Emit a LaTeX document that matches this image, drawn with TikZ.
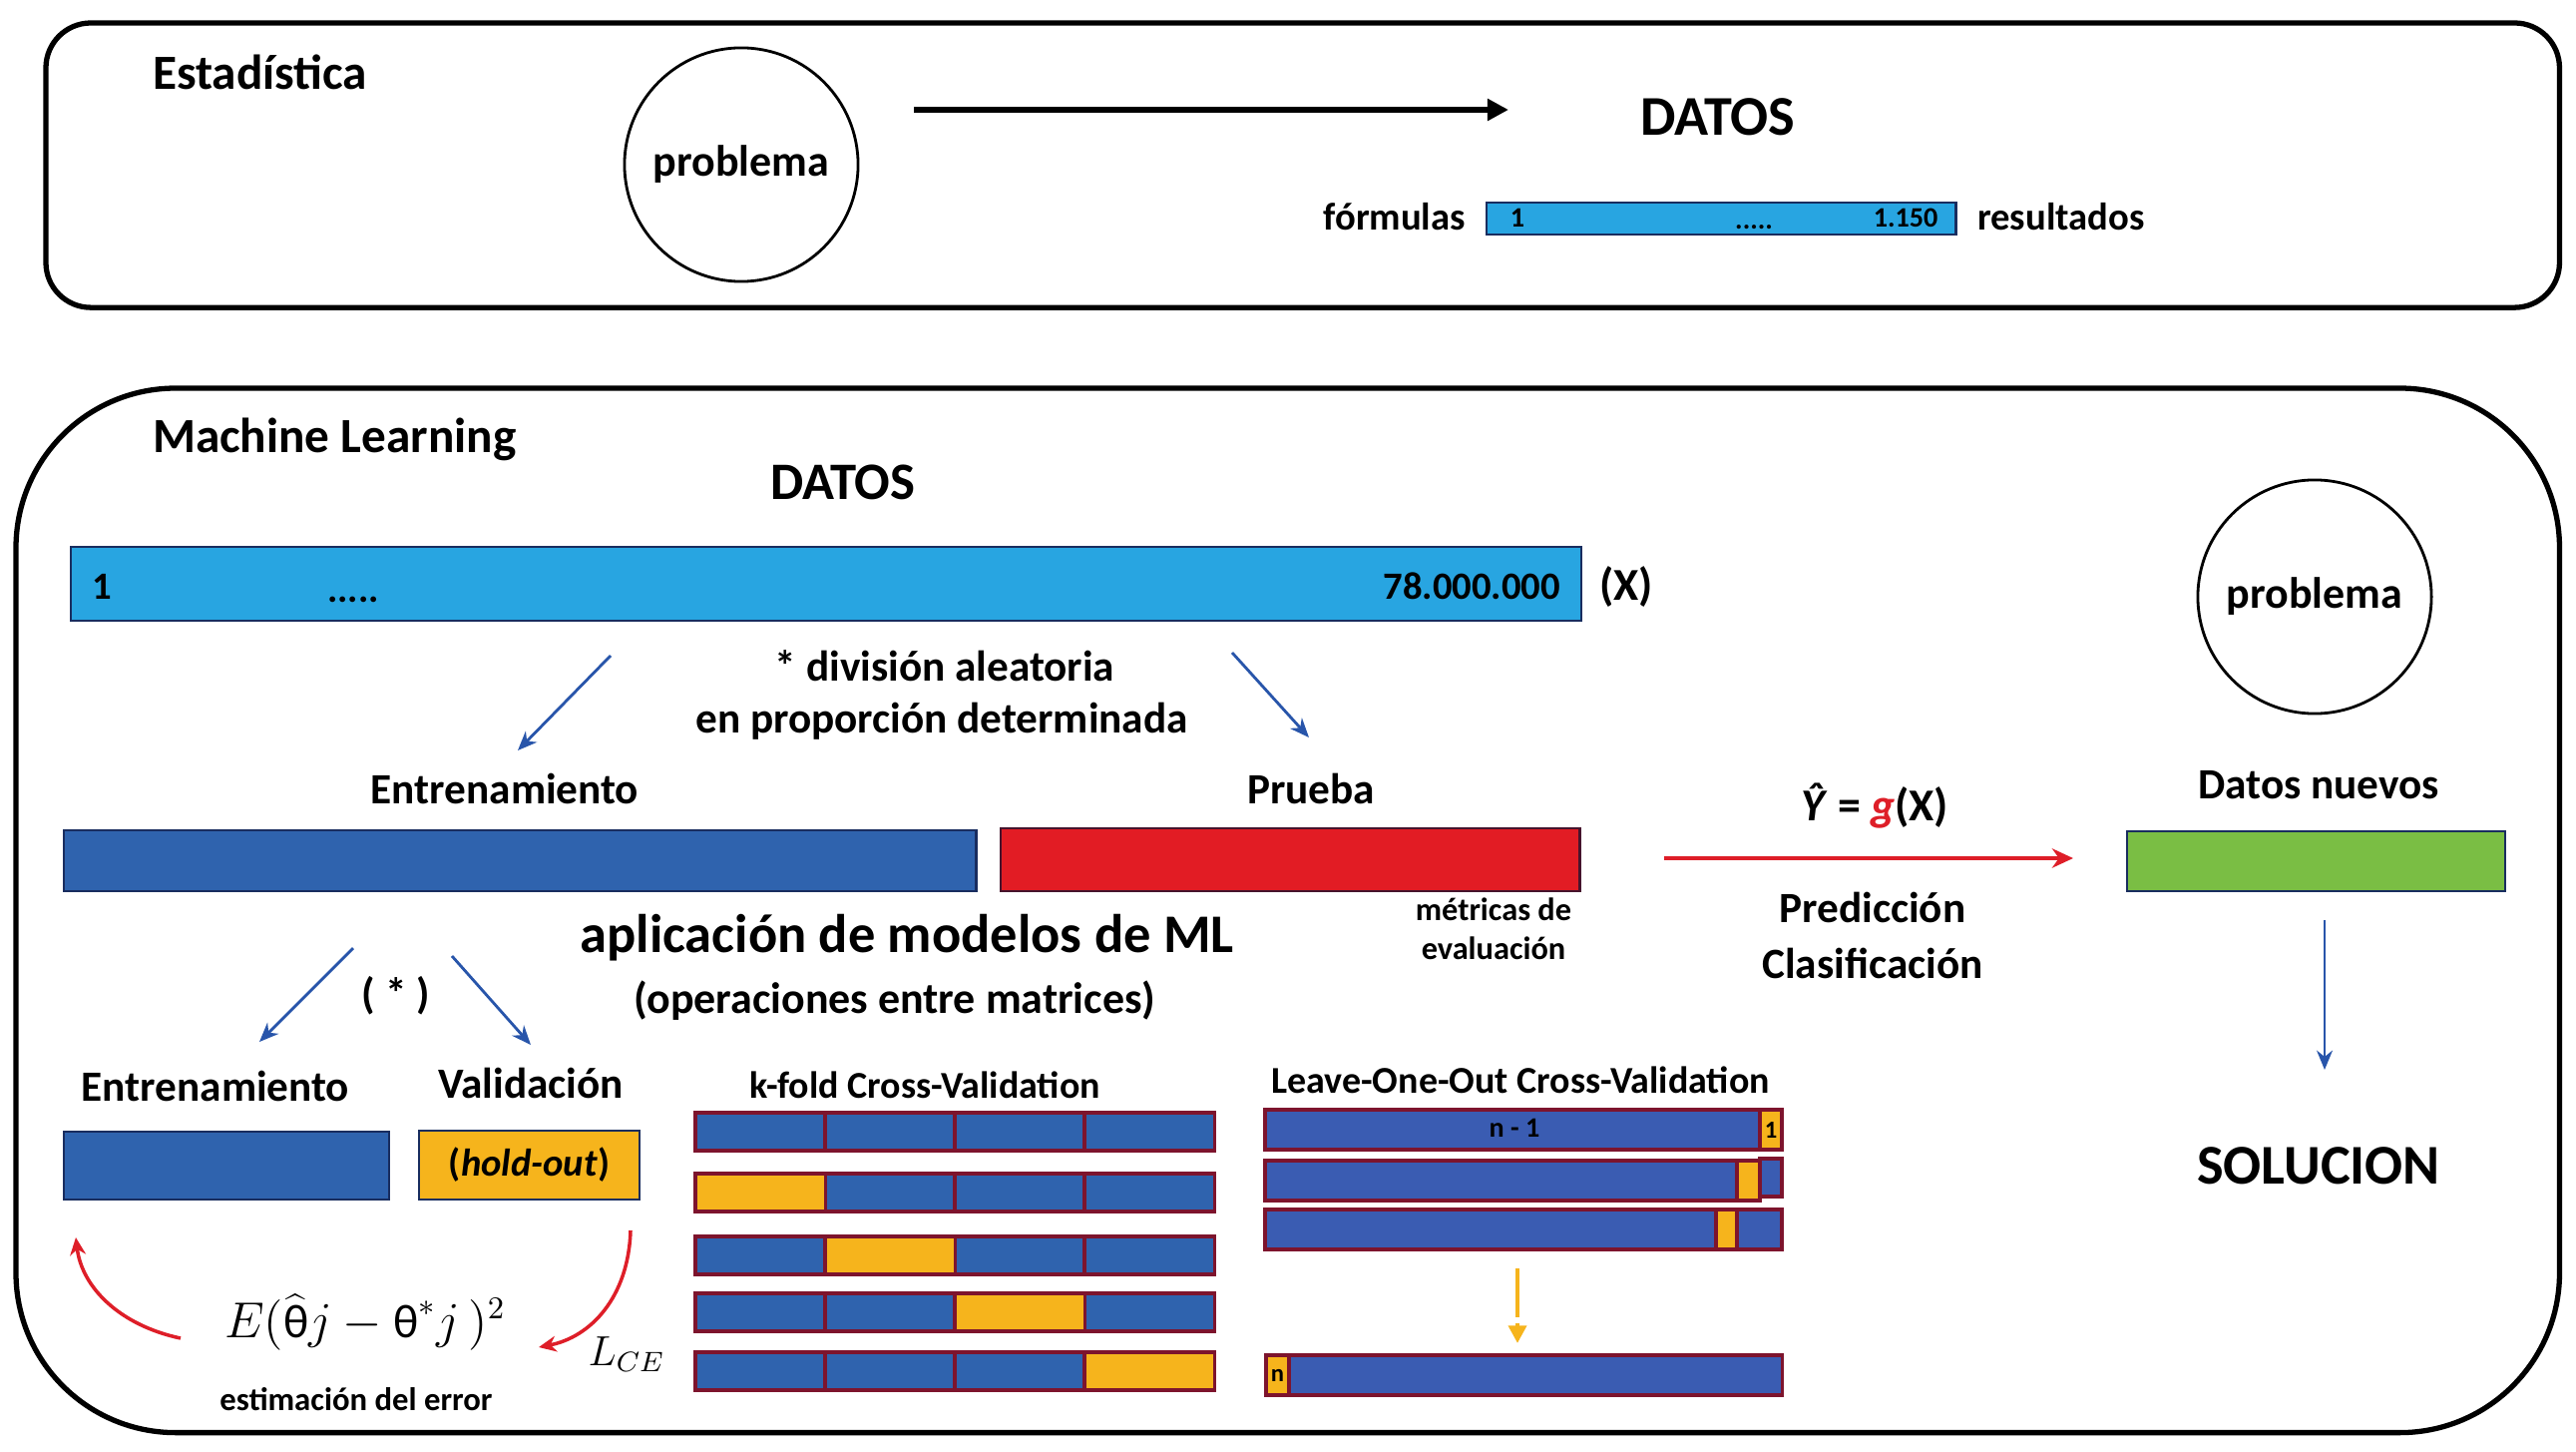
\documentclass[tikz,border=0pt]{standalone}
\usepackage{fontspec}
\setmainfont{Carlito}
\usetikzlibrary{arrows.meta}
\definecolor{lblue}{RGB}{40,165,225}
\definecolor{navy}{RGB}{25,45,95}
\definecolor{mblue}{RGB}{47,99,174}
\definecolor{lblue2}{RGB}{58,92,178}
\definecolor{rbar}{RGB}{226,28,36}
\definecolor{rbord}{RGB}{70,20,45}
\definecolor{orng}{RGB}{246,180,28}
\definecolor{gbar}{RGB}{122,190,68}
\definecolor{arrblue}{RGB}{40,85,170}
\definecolor{arrred}{RGB}{222,30,40}
\definecolor{cellb}{RGB}{125,20,45}
\newcommand\myfs[1]{\fontsize{#1}{#1}\selectfont}
\begin{document}
\begin{tikzpicture}[x=0.01cm,y=-0.01cm,
 every node/.style={inner sep=0pt, outer sep=0pt},
 lbl/.style={font=\bfseries\myfs{12.3}},
 ttl/.style={font=\bfseries\myfs{14}},
 small/.style={font=\bfseries\myfs{9.2}},
 tiny/.style={font=\bfseries\myfs{8}},
 bar/.style={draw, anchor=north west, line width=0.7pt},
 frame/.style={draw, line width=1.5pt, anchor=north west},
 prob/.style={circle, draw, line width=0.8pt, minimum size=2.34cm, font=\bfseries\myfs{12.5}},
 barrow/.style={draw=arrblue, line width=0.8pt, -{Stealth[length=5.5pt,width=4.5pt]}},
 rarrow/.style={draw=arrred, line width=1.0pt, -{Stealth[length=5pt,width=4.5pt]}},
 kcell/.style={draw=cellb, line width=0.9pt, fill=mblue, minimum height=0.38cm, anchor=north west},
 lcell/.style={draw=cellb, line width=0.9pt, fill=lblue2, minimum height=0.40cm, anchor=north west},
]
\useasboundingbox (0,0) rectangle (2582,1455);
\fill[white] (0,0) rectangle (2582,1455);

% ---------- Estadistica box ----------
\node[frame, rounded corners=0.45cm, minimum width=25.18cm, minimum height=2.85cm] (statbox) at (46,23) {};
\node[ttl, anchor=west] (est) at (153,72) {Estadística};
\node[prob] (prob1) at (743,165) {problema};
\coordinate (ar1s) at (916,110);
\coordinate (ar1e) at (1512,110);
\draw[line width=1.6pt, -{Triangle[length=6pt,width=6pt]}] (ar1s) -- (ar1e);
\node[font=\bfseries\myfs{16}] (datos1) at (1722,117) {DATOS};
\node[bar, fill=lblue, draw=navy, minimum width=4.7cm, minimum height=0.32cm] (bar1) at (1490,203) {};
\node[tiny, anchor=base] (b1a) at (1521,228) {1};
\node[tiny, anchor=base] (b1b) at (1758,230) {.....};
\node[tiny, anchor=base] (b1c) at (1910,228) {1.150};
\node[font=\bfseries\myfs{11}, anchor=east] (form) at (1469,217) {fórmulas};
\node[font=\bfseries\myfs{11}, anchor=west] (res) at (1982,217) {resultados};

% ---------- Machine Learning box ----------
\node[frame, rounded corners=1.6cm, minimum width=25.48cm, minimum height=10.46cm] (mlbox) at (16,389) {};
\node[ttl, anchor=west] (mltitle) at (153,440) {Machine Learning};
\node[font=\bfseries\myfs{15}] (datos2) at (845,483) {DATOS};
\node[bar, fill=lblue, draw=navy, minimum width=15.13cm, minimum height=0.74cm] (bar2) at (71,548) {};
\node[font=\bfseries\myfs{11}, anchor=base] (b2a) at (102,600) {1};
\node[font=\bfseries\myfs{11}, anchor=base] (b2b) at (354,603) {.....};
\node[font=\bfseries\myfs{11}, anchor=base east] (b2c) at (1564,600) {78.000.000};
\node[font=\bfseries\myfs{13}] (xlab) at (1630,588) {(X)};

\coordinate (d1s) at (612,657); \coordinate (d1e) at (519,752);
\coordinate (d2s) at (1235,654); \coordinate (d2e) at (1312,739);
\draw[barrow] (d1s) -- (d1e);
\draw[barrow] (d2s) -- (d2e);
\node[lbl] (div1) at (947,667) {* división aleatoria};
\node[lbl] (div2) at (944,723) {en proporción determinada};

\node[lbl] (train1) at (506,790) {Entrenamiento};
\node[lbl] (test1) at (1314,790) {Prueba};
\node[bar, fill=mblue, draw=navy, minimum width=9.14cm, minimum height=0.61cm] (trainbar) at (64,832) {};
\node[bar, fill=rbar, draw=rbord, minimum width=5.80cm, minimum height=0.63cm] (testbar) at (1003,830) {};
\node[small] (met1) at (1497,911) {métricas de};
\node[small] (met2) at (1497,950) {evaluación};
\node[font=\bfseries\myfs{15.5}] (apl) at (909,940) {aplicación de modelos de ML};
\node[font=\bfseries\myfs{12.5}] (oper) at (897,1003) {(operaciones entre matrices)};

% prediction
\coordinate (pr1) at (1668,860); \coordinate (pr2) at (2078,860);
\draw[draw=arrred, line width=1.4pt, -{Stealth[length=6pt,width=5.5pt]}] (pr1) -- (pr2);
\node[font=\bfseries\myfs{13}] (yhat) at (1879,808) {\textit{\^Y} = {\color{arrred}\textit{g}}(X)};
\node[lbl] (pred) at (1877,909) {Predicción};
\node[lbl] (clas) at (1877,965) {Clasificación};

% right side
\node[prob] (prob2) at (2320,598) {problema};
\node[lbl] (nuevos) at (2324,787) {Datos nuevos};
\node[bar, fill=gbar, draw=navy, minimum width=3.79cm, minimum height=0.60cm] (greenbar) at (2132,833) {};
\coordinate (s1) at (2330,922); \coordinate (s2) at (2330,1072);
\draw[barrow] (s1) -- (s2);
\node[font=\bfseries\myfs{16}] (sol) at (2324,1168) {SOLUCION};

% hold-out
\coordinate (h1s) at (354,950); \coordinate (h1e) at (260,1044);
\coordinate (h2s) at (453,958); \coordinate (h2e) at (532,1047);
\draw[barrow] (h1s) -- (h1e);
\draw[barrow] (h2s) -- (h2e);
\node[lbl] (star) at (397,998) {( * )};
\node[lbl] (train2) at (216,1088) {Entrenamiento};
\node[lbl] (val) at (532,1085) {Validación};
\node[bar, fill=mblue, draw=navy, minimum width=3.26cm, minimum height=0.68cm] (trainbar2) at (64,1134) {};
\node[bar, fill=orng, draw=navy, minimum width=2.21cm, minimum height=0.69cm] (valbar) at (420,1133) {};
\node[font=\bfseries\myfs{11}] (holdout) at (valbar.center) {(\textit{hold-out})};

\node[font=\myfs{13.5}] (formula) at (366,1325) {$E(\widehat{\mbox{θ}}j-\mbox{θ}^{*}j\,)^{2}$};
\node[font=\bfseries\myfs{9.3}] (esterr) at (357,1402) {estimación del error};
\node[font=\myfs{12}] (lce) at (628,1357) {$L_{CE}$};
\coordinate (c1s) at (181,1341); \coordinate (c1e) at (76,1240);
\coordinate (c2s) at (632,1233); \coordinate (c2e) at (540,1350);
\draw[rarrow] (c1s) .. controls (120,1328) and (82,1290) .. (c1e);
\draw[rarrow] (c2s) .. controls (630,1300) and (592,1340) .. (c2e);

% k-fold
\node[font=\bfseries\myfs{10.8}] (kft) at (927,1087) {k-fold Cross-Validation};
\foreach \r/\yy/\o in {1/1115/0,2/1176/1,3/1239/2,4/1296/3,5/1355/4}{
  \foreach \c in {1,...,4}{
    \node[kcell, minimum width=1.3cm] (k\r\c) at ({697+(\c-1)*130},\yy) {};
  }
  \ifnum\o>0
    \node[kcell, fill=orng, minimum width=1.3cm] (ko\r) at ({697+(\o-1)*130},\yy) {};
  \fi
}

% LOOCV
\node[font=\bfseries\myfs{10.8}] (loot) at (1524,1082) {Leave-One-Out Cross-Validation};
\node[lcell, minimum width=4.96cm] (l1a) at (1268,1112) {};
\node[lcell, fill=orng, minimum width=0.22cm] (l1b) at (1764,1112) {};
\node[font=\bfseries\myfs{7}] (l1one) at (l1b.center) {1};
\node[font=\bfseries\myfs{8}] (nm1) at (1518,1130) {n - 1};

\node[lcell, minimum width=4.73cm] (l2a) at (1268,1163) {};
\node[lcell, fill=orng, minimum width=0.23cm] (l2b) at (1741,1163) {};
\node[lcell, minimum width=0.22cm, minimum height=0.38cm] (l2c) at (1764,1161) {};

\node[lcell, minimum width=4.52cm] (l3a) at (1268,1212) {};
\node[lcell, fill=orng, minimum width=0.21cm] (l3b) at (1720,1212) {};
\node[lcell, minimum width=0.45cm] (l3c) at (1741,1212) {};

\coordinate (o1) at (1521,1271); \coordinate (o2) at (1521,1346);
\draw[draw=orng, line width=1.3pt, dash pattern=on 14pt off 1.5pt, -{Triangle[length=5pt,width=5pt]}] (o1) -- (o2);

\node[lcell, fill=orng, minimum width=0.23cm] (lna) at (1269,1358) {};
\node[font=\bfseries\myfs{7}] (lnn) at (lna.center) {n};
\node[lcell, minimum width=4.94cm] (lnb) at (1292,1358) {};
\end{tikzpicture}
\end{document}
